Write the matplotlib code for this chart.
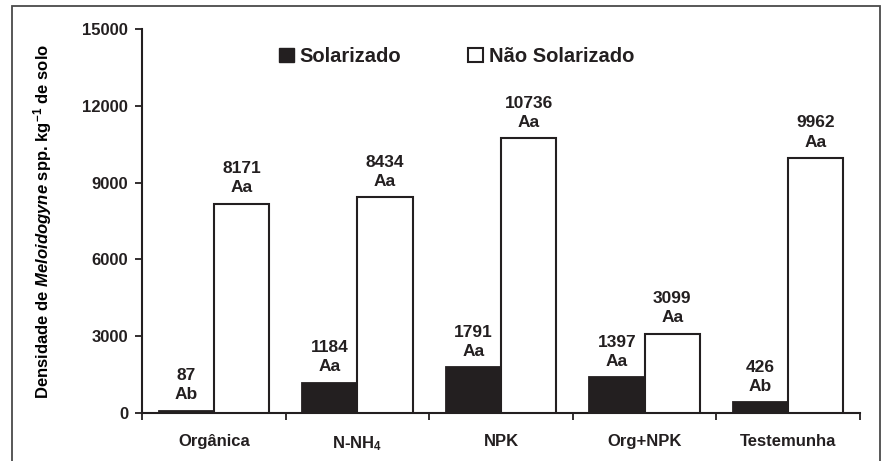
import matplotlib
matplotlib.use("Agg")
from matplotlib import pyplot as plt
from matplotlib.patches import Rectangle, Patch
import numpy as np

categories = ["Orgânica", "N-NH$_4$", "NPK", "Org+NPK", "Testemunha"]
solarizado = [87, 1184, 1791, 1397, 426]
nao_solarizado = [8171, 8434, 10736, 3099, 9962]
letras_sol = ["Ab", "Aa", "Aa", "Aa", "Ab"]
letras_nao = ["Aa", "Aa", "Aa", "Aa", "Aa"]
yticks = [0, 3000, 6000, 9000, 12000, 15000]

ink = '#231f20'
plt.rcParams['font.family'] = 'Liberation Sans'
plt.rcParams['font.weight'] = 'bold'
plt.rcParams['mathtext.fontset'] = 'custom'
plt.rcParams['mathtext.rm'] = 'Liberation Sans:bold'
plt.rcParams['mathtext.it'] = 'Liberation Sans:italic'
plt.rcParams['mathtext.bf'] = 'Liberation Sans:bold'
plt.rcParams['text.color'] = ink
plt.rcParams['axes.edgecolor'] = ink
plt.rcParams['xtick.color'] = ink
plt.rcParams['ytick.color'] = ink

fig = plt.figure(figsize=(8.85, 4.61), dpi=100)
ax = fig.add_axes([142/885, 48/461, 718/885, 384/461])

# outer frame
fig.patches.append(Rectangle((12/885, -0.05), 868/885, 1.05 - 6/461, transform=fig.transFigure,
                             fill=False, edgecolor='#4a4a4a', linewidth=1.3))

x = np.arange(len(categories))
w = 0.385
ax.bar(x - w/2, solarizado, width=w, color=ink, edgecolor=ink, linewidth=1.3, zorder=3)
ax.bar(x + w/2, nao_solarizado, width=w, color='white', edgecolor=ink, linewidth=1.5, zorder=3)

for i in range(len(categories)):
    ax.annotate(f"{solarizado[i]}\n{letras_sol[i]}", (x[i] - w/2, solarizado[i]),
                xytext=(0, 6), textcoords='offset points', ha='center', va='bottom',
                fontsize=12.5, fontweight='bold', linespacing=1.35)
    ax.annotate(f"{nao_solarizado[i]}\n{letras_nao[i]}", (x[i] + w/2, nao_solarizado[i]),
                xytext=(0, 6), textcoords='offset points', ha='center', va='bottom',
                fontsize=12.5, fontweight='bold', linespacing=1.35)

ax.set_xlim(-0.5, len(categories) - 0.5)
ax.set_ylim(0, 15000)
ax.set_yticks(yticks)
ax.set_yticklabels([str(v) for v in yticks], fontsize=12, fontweight='bold')
ax.set_xticks(x)
ax.set_xticklabels(categories, fontsize=12, fontweight='bold')
ax.set_xticks(np.arange(-0.5, len(categories)), minor=True)
ax.tick_params(axis='x', which='major', length=0, pad=15)
ax.tick_params(axis='x', which='minor', length=5, width=1.3, direction='out')
ax.tick_params(axis='y', length=5, width=1.3, direction='out', pad=5)

for s in ['top', 'right']:
    ax.spines[s].set_visible(False)
for s in ['left', 'bottom']:
    ax.spines[s].set_linewidth(1.5)

ax.set_ylabel(r"Densidade de $\mathit{Meloidogyne}$ spp. kg$^{\mathbf{-1}}$ de solo",
              fontsize=12, fontweight='bold', labelpad=20)

handles = [Patch(facecolor=ink, edgecolor=ink), Patch(facecolor='white', edgecolor=ink, linewidth=1.5)]
ax.legend(handles, ["Solarizado", "Não Solarizado"], ncol=2, frameon=False,
          loc='upper left', bbox_to_anchor=(0.165, 1.0),
          handlelength=0.75, handleheight=0.75, handletextpad=0.3, columnspacing=3.3,
          prop={'weight': 'bold', 'size': 14.5})

fig.savefig("out.png", dpi=100)
